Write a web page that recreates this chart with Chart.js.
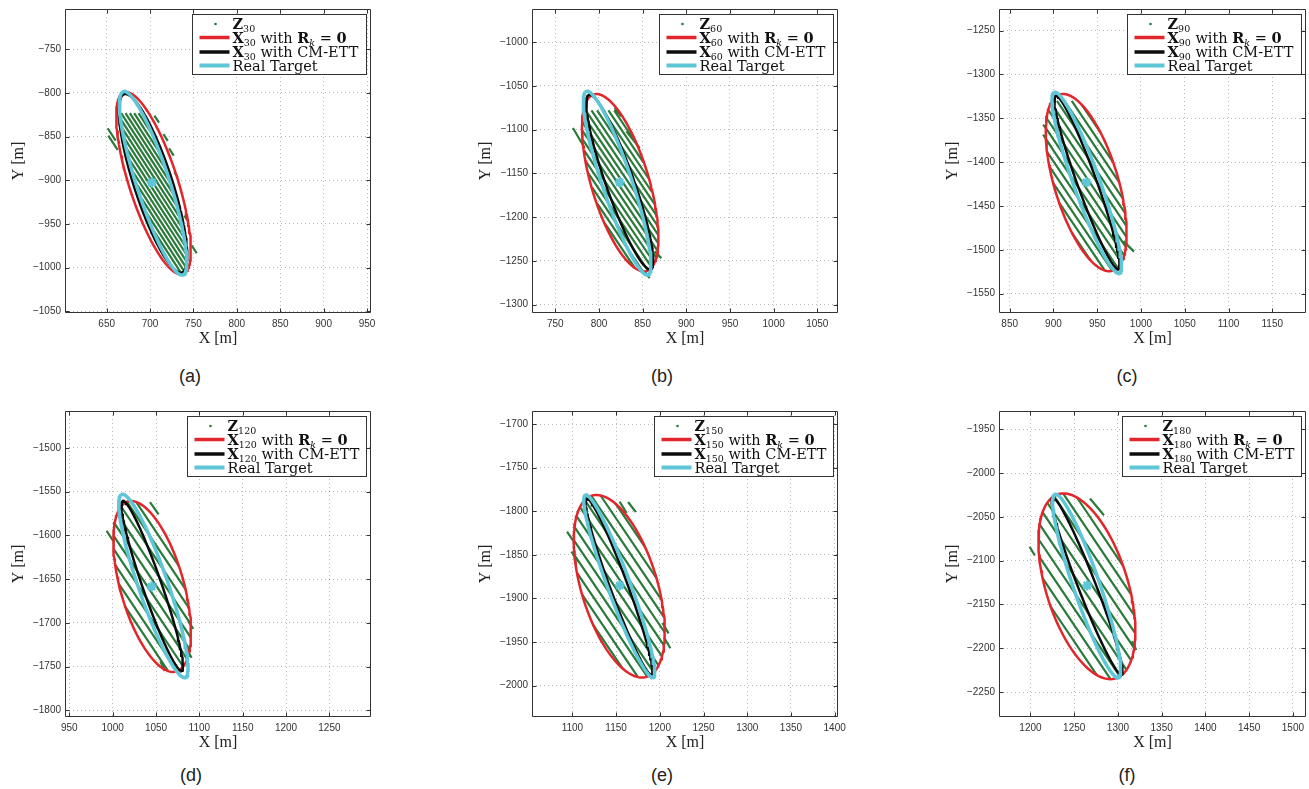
<!DOCTYPE html>
<html>
<head>
<meta charset="utf-8">
<script src="https://cdn.jsdelivr.net/npm/chart.js@4/dist/chart.umd.min.js"></script>
<style>
  body { margin: 0; background: #fff; width: 1309px; height: 789px; overflow: hidden; position: relative; }
  canvas { position: absolute; }
  .cap { position: absolute; font: 18px 'Liberation Sans', Arial, sans-serif; color: #222; transform: translate(-50%, -50%); }
</style>
</head>
<body>
<script>
// time steps shown in the six panels
const steps = ['30', '60', '90', '120', '150', '180'];
const captions = ['(a)', '(b)', '(c)', '(d)', '(e)', '(f)'];

// axis ranges [min, max] in metres
const xRanges = [[602, 954.6], [723.3, 1073.7], [837.8, 1188.5], [945, 1298], [1053.8, 1403.8], [1164, 1515]];
const yRanges = [[-1052, -704], [-1309.5, -962.3], [-1572, -1225.3], [-1807.6, -1458], [-2035.9, -1685], [-2278.5, -1929]];

// tick labels
const xTicks = [
  [650, 700, 750, 800, 850, 900, 950],
  [750, 800, 850, 900, 950, 1000, 1050],
  [850, 900, 950, 1000, 1050, 1100, 1150],
  [950, 1000, 1050, 1100, 1150, 1200, 1250],
  [1100, 1150, 1200, 1250, 1300, 1350, 1400],
  [1200, 1250, 1300, 1350, 1400, 1450, 1500]
];
const yTicks = [
  [-1050, -1000, -950, -900, -850, -800, -750],
  [-1300, -1250, -1200, -1150, -1100, -1050, -1000],
  [-1550, -1500, -1450, -1400, -1350, -1300, -1250],
  [-1800, -1750, -1700, -1650, -1600, -1550, -1500],
  [-2000, -1950, -1900, -1850, -1800, -1750, -1700],
  [-2250, -2200, -2150, -2100, -2050, -2000, -1950]
];

// extension ellipses: [cx, cy, semi-major, semi-minor, orientation deg]
const redEllipses = [
  [704, -903.5, 109.4, 27.9, -72],
  [824.3, -1160.7, 105.3, 33, -73.3],
  [937.4, -1423.3, 105, 36.5, -73.3],
  [1045.5, -1658.5, 101, 36.5, -74],
  [1153.6, -1886, 108.5, 43.5, -73.3],
  [1264.5, -2129.2, 110.2, 46.7, -72.6]
];
const blackEllipses = [
  [703.5, -903.6, 107.4, 22, -71.9],
  [823.7, -1159.8, 105.6, 16, -70.5],
  [938.2, -1423, 105.2, 11, -70.1],
  [1045.6, -1657.8, 102.8, 11, -70.7],
  [1153.3, -1886.3, 107.8, 10, -69.8],
  [1264.7, -2129.1, 108.5, 10, -68.7]
];
const cyanEllipses = [
  [703.5, -903.5, 110.4, 19, -71.9],
  [820.8, -1161.1, 110.5, 17, -71.4],
  [938, -1423.4, 109.6, 15, -70.2],
  [1047, -1657.8, 110.8, 17, -70.7],
  [1153.6, -1885.9, 111.5, 13, -69.7],
  [1264.2, -2128.7, 110.7, 15, -70.9]
];
const targetCenters = [[702, -902.7], [823.7, -1160.3], [937.8, -1423], [1045, -1658.6], [1154.2, -1885], [1264.9, -2128.3]];

// measurement strokes Z_k: [x1, y1, x2, y2]
const zA = [
  [703.2, -956.3, 737.1, -1008.4], [695, -936, 740.7, -1006.3], [688.7, -918.5, 742.4, -1001.1],
  [683.4, -902.8, 742.9, -994.3], [679, -888.3, 742.7, -986.2], [675.3, -874.9, 741.7, -977.1],
  [672.2, -862.4, 740.2, -967.1], [669.6, -850.7, 738.1, -956.1], [667.5, -839.8, 735.5, -944.5],
  [666, -829.8, 732.4, -932], [666.7, -823.3, 728.7, -918.5], [671.7, -823.3, 724.3, -904.1],
  [676.7, -823.3, 719, -888.4], [681.7, -823.3, 712.7, -870.9], [686.7, -823.3, 704.5, -850.5],
  [651.2, -840.5, 660.4, -854.6], [651.9, -848.9, 662.7, -865.3], [705, -826, 710.4, -834],
  [715.4, -847.3, 720.4, -855], [721.9, -863.4, 727.3, -871.8], [728.1, -890.8, 731.9, -896.9],
  [739.6, -940.5, 743.5, -946.6], [748.1, -974.8, 753.8, -983.6]
];
const zB = [
  [817.4, -1078, 841.8, -1114.2], [810.8, -1078, 850.9, -1137.4], [804.3, -1078, 856.7, -1155.6],
  [797.8, -1078, 860.7, -1171.3], [791.4, -1078, 863.7, -1185.2], [784.8, -1078, 865.8, -1198],
  [781.7, -1083.1, 867, -1209.6], [780.9, -1091.6, 867.6, -1220.1], [781, -1101.3, 867.7, -1229.8],
  [781.6, -1111.8, 866.9, -1238.3], [782.8, -1123.4, 865.5, -1245.9], [784.9, -1136.2, 863.3, -1252.4],
  [787.9, -1150.1, 860.3, -1257.5], [791.9, -1165.8, 856.2, -1261], [797.7, -1184, 850.3, -1262],
  [806.8, -1207.2, 841, -1257.9],
  [817.9, -1075.4, 825.6, -1084.9], [831.3, -1102.1, 846.6, -1121.1], [770.2, -1098.2, 783.6, -1121.1],
  [863.7, -1239.1, 871.4, -1246.8], [852.3, -1262, 858, -1269.6]
];
const zC = [
  [932.4, -1334.6, 953.8, -1366.3], [920.9, -1330, 968.2, -1400.2], [912.5, -1330, 975.2, -1423.1],
  [904, -1330, 979.5, -1441.9], [897.1, -1332.3, 982.1, -1458.3], [894.1, -1340.3, 983.3, -1472.6],
  [892.2, -1349.9, 983.5, -1485.4], [891.3, -1361.2, 982.6, -1496.7], [891.5, -1374, 980.7, -1506.3],
  [892.7, -1388.3, 977.7, -1514.3], [895.3, -1404.7, 973.4, -1520.4], [899.6, -1423.5, 967.3, -1524],
  [906.6, -1446.4, 958.6, -1523.5], [921, -1480.3, 942.4, -1512],
  [888.2, -1357.2, 896.6, -1368.6], [888.2, -1368.6, 899.6, -1385.7], [980, -1490, 992, -1502]
];
const zD = [
  [1027, -1561.9, 1076.4, -1635.2], [1016.6, -1561.8, 1084.1, -1661.9], [1009.7, -1567.1, 1088.1, -1683.3],
  [1005.1, -1575.6, 1090, -1701.5], [1002.3, -1586.7, 1090.2, -1717], [1000.8, -1600, 1088.7, -1730.3],
  [1001, -1615.5, 1085.9, -1741.4], [1002.9, -1633.7, 1081.3, -1749.9], [1006.9, -1655.1, 1074.4, -1755.2],
  [1014.6, -1681.8, 1064, -1755.1],
  [993, -1595, 1001, -1607], [1043, -1562, 1053, -1576], [1087, -1698, 1093, -1707],
  [1085, -1729, 1091, -1740], [1055, -1744, 1060, -1755]
];
const zE = [
  [1149.6, -1791.6, 1183.5, -1841.8], [1132.2, -1781.9, 1196.2, -1876.7], [1121.6, -1782.3, 1202, -1901.5],
  [1114.2, -1787.3, 1204.9, -1921.7], [1108.7, -1795.3, 1205.6, -1939], [1104.7, -1805.6, 1204.7, -1953.8],
  [1102.5, -1818.2, 1202.5, -1966.4], [1101.6, -1833, 1198.5, -1976.7], [1102.3, -1850.3, 1193, -1984.7],
  [1105.2, -1870.5, 1185.6, -1989.7], [1111, -1895.3, 1175, -1990.1], [1123.7, -1930.2, 1157.6, -1980.4],
  [1154, -1789, 1162, -1802], [1163.7, -1789.4, 1172.5, -1800.8], [1093.9, -1823.3, 1102.7, -1836.6],
  [1098.9, -1846.2, 1106.5, -1857.6], [1203, -1928, 1210, -1940], [1205, -1945, 1212, -1957]
];
const zF = [
  [1253.1, -2027.8, 1306.2, -2106.4], [1237.3, -2023, 1315.2, -2138.6], [1226.8, -2026.3, 1319.1, -2163.1],
  [1219.2, -2033.8, 1320, -2183.2], [1213.9, -2044.7, 1318.6, -2199.9], [1210.4, -2058.5, 1315.1, -2213.7],
  [1209, -2075.2, 1309.8, -2224.6], [1209.9, -2095.3, 1302.2, -2232.1], [1213.8, -2119.8, 1291.7, -2235.4],
  [1222.8, -2152, 1275.9, -2230.6],
  [1199, -2084, 1205, -2094], [1268, -2029, 1284, -2048], [1316, -2192, 1321, -2202]
];
const zSegments = [zA, zB, zC, zD, zE, zF];

// ---- layout (page pixels): plot area left, top, width, height
const boxes = [
  [65, 9, 306, 304], [532, 9, 306, 304], [999, 9, 307, 304],
  [65, 411, 306, 306], [532, 411, 306, 306], [999, 411, 307, 306]
];
const capPos = [[190, 376], [662, 376], [1127, 376], [191, 775], [662, 775], [1127, 775]];

const RED = '#e2262b', BLACK = '#0c0c0c', CYAN = '#5fc6d8', GREEN = '#2a7a3a';

function ellipsePts(e) {
  const [cx, cy, a, b, deg] = e;
  const th = deg * Math.PI / 180;
  const pts = [];
  for (let k = 0; k <= 144; k++) {
    const t = k / 144 * 2 * Math.PI;
    const u = a * Math.cos(t), v = b * Math.sin(t);
    pts.push({ x: cx + u * Math.cos(th) - v * Math.sin(th), y: cy + u * Math.sin(th) + v * Math.cos(th) });
  }
  return pts;
}

function segPts(list) {
  const pts = [];
  list.forEach(s => {
    pts.push({ x: s[0], y: s[1] }, { x: s[2], y: s[3] }, { x: null, y: null });
  });
  return pts;
}

// axes box + inward tick marks (MATLAB style)
const boxPlugin = {
  id: 'mbox',
  afterDatasetsDraw(chart) {
    const { ctx, chartArea: ca, scales } = chart;
    const L = Math.round(ca.left) + 0.5, R = Math.round(ca.right) - 0.5;
    const T = Math.round(ca.top) + 0.5, B = Math.round(ca.bottom) - 0.5;
    ctx.save();
    ctx.strokeStyle = '#333';
    ctx.lineWidth = 1;
    ctx.beginPath();
    ctx.rect(L, T, R - L, B - T);
    scales.x.ticks.forEach(t => {
      const px = Math.round(scales.x.getPixelForValue(t.value)) + 0.5;
      ctx.moveTo(px, B); ctx.lineTo(px, B - 4);
      ctx.moveTo(px, T); ctx.lineTo(px, T + 4);
    });
    scales.y.ticks.forEach(t => {
      const py = Math.round(scales.y.getPixelForValue(t.value)) + 0.5;
      ctx.moveTo(L, py); ctx.lineTo(L + 4, py);
      ctx.moveTo(R, py); ctx.lineTo(R - 4, py);
    });
    ctx.stroke();
    ctx.restore();
  }
};

function richText(ctx, x, y, parts) {
  parts.forEach(p => {
    ctx.font = p.f;
    ctx.fillText(p.t, x, y + (p.dy || 0));
    x += ctx.measureText(p.t).width;
  });
}

const legendPlugin = {
  id: 'mlegend',
  afterDraw(chart, args, opts) {
    const { ctx, chartArea: ca } = chart;
    const s = opts.step;
    const w = s.length > 2 ? 179 : 174, h = 60;
    const x0 = Math.round(ca.right - 5 - w) + 0.5, y0 = Math.round(ca.top + 5) + 0.5;
    const B = 'bold 14.5px "DejaVu Serif"', Rg = '14.5px "DejaVu Serif"';
    const SUB = '9.5px "DejaVu Serif"', SUBI = 'italic 9.5px "DejaVu Serif"';
    ctx.save();
    ctx.fillStyle = '#fff';
    ctx.fillRect(x0, y0, w, h);
    ctx.strokeStyle = '#333';
    ctx.lineWidth = 1;
    ctx.strokeRect(x0, y0, w, h);
    const rows = [9.5, 23, 37.5, 51];
    // marker sample
    ctx.fillStyle = GREEN;
    ctx.beginPath();
    ctx.arc(x0 + 23, y0 + rows[0], 1.3, 0, Math.PI * 2);
    ctx.fill();
    [[RED, 3.5], [BLACK, 3.5], [CYAN, 4]].forEach((c, k) => {
      ctx.strokeStyle = c[0];
      ctx.lineWidth = c[1];
      ctx.beginPath();
      ctx.moveTo(x0 + 7, y0 + rows[k + 1]);
      ctx.lineTo(x0 + 37, y0 + rows[k + 1]);
      ctx.stroke();
    });
    ctx.fillStyle = '#111';
    ctx.textBaseline = 'alphabetic';
    const tx = x0 + 40;
    richText(ctx, tx, y0 + rows[0] + 5, [{ t: 'Z', f: B }, { t: s, f: SUB, dy: 3 }]);
    richText(ctx, tx, y0 + rows[1] + 5, [
      { t: 'X', f: B }, { t: s, f: SUB, dy: 3 }, { t: ' with ', f: Rg },
      { t: 'R', f: B }, { t: 'k', f: SUBI, dy: 3 }, { t: ' = ', f: Rg }, { t: '0', f: B }
    ]);
    richText(ctx, tx, y0 + rows[2] + 5, [{ t: 'X', f: B }, { t: s, f: SUB, dy: 3 }, { t: ' with CM-ETT', f: Rg }]);
    richText(ctx, tx, y0 + rows[3] + 5, [{ t: 'Real Target', f: Rg }]);
    ctx.restore();
  }
};

const tickFont = { family: "'Liberation Sans', Arial, sans-serif", size: 10 };
const titleFont = { family: "'Liberation Serif', 'Times New Roman', serif", size: 16 };
const fmt = v => (v < 0 ? '\u2212' + Math.abs(v) : String(v));
const noPad = s => { s.paddingTop = 0; s.paddingBottom = 0; s.paddingLeft = 0; s.paddingRight = 0; };

boxes.forEach((b, i) => {
  const cv = document.createElement('canvas');
  cv.width = b[2] + 75;
  cv.height = b[3] + 45;
  cv.style.left = (b[0] - 60) + 'px';
  cv.style.top = (b[1] - 5) + 'px';
  cv.style.width = cv.width + 'px';
  cv.style.height = cv.height + 'px';
  document.body.appendChild(cv);

  new Chart(cv, {
    type: 'scatter',
    data: {
      datasets: [
        { label: 'center', data: [{ x: targetCenters[i][0], y: targetCenters[i][1] }],
          pointStyle: 'star', radius: 5, borderColor: CYAN, borderWidth: 2.5, showLine: false },
        { label: 'Real Target', data: ellipsePts(cyanEllipses[i]), showLine: true,
          borderColor: CYAN, borderWidth: 3.5, pointRadius: 0, tension: 0 },
        { label: 'CM-ETT', data: ellipsePts(blackEllipses[i]), showLine: true,
          borderColor: BLACK, borderWidth: 2.5, pointRadius: 0, tension: 0 },
        { label: 'Rk=0', data: ellipsePts(redEllipses[i]), showLine: true,
          borderColor: RED, borderWidth: 2.5, pointRadius: 0, tension: 0 },
        { label: 'Z', data: segPts(zSegments[i]), showLine: true, spanGaps: false,
          borderColor: GREEN, borderWidth: 2.2, pointRadius: 0, tension: 0 }
      ]
    },
    options: {
      responsive: false,
      animation: false,
      devicePixelRatio: 1,
      layout: { autoPadding: false, padding: { top: 5, right: 15, left: 0, bottom: 0 } },
      plugins: {
        legend: { display: false },
        tooltip: { enabled: false },
        mlegend: { step: steps[i] }
      },
      scales: {
        x: {
          type: 'linear', min: xRanges[i][0], max: xRanges[i][1],
          afterBuildTicks: s => { s.ticks = xTicks[i].map(v => ({ value: v })); },
          afterFit: s => { s.height = 40; noPad(s); },
          grid: { color: 'rgba(0,0,0,0.28)', lineWidth: 1, drawTicks: false },
          border: { display: false, dash: [1, 3] },
          ticks: { padding: 5, color: '#333', font: tickFont, maxRotation: 0, autoSkip: false, callback: fmt },
          title: { display: true, text: 'X [m]', color: '#222', font: titleFont, padding: { top: 0, bottom: 4.7 } }
        },
        y: {
          type: 'linear', min: yRanges[i][0], max: yRanges[i][1],
          afterBuildTicks: s => { s.ticks = yTicks[i].map(v => ({ value: v })); },
          afterFit: s => { s.width = 60; noPad(s); },
          grid: { color: 'rgba(0,0,0,0.28)', lineWidth: 1, drawTicks: false },
          border: { display: false, dash: [1, 3] },
          ticks: { padding: 4, color: '#333', font: tickFont, autoSkip: false, callback: fmt },
          title: { display: true, text: 'Y [m]', color: '#222', font: titleFont, padding: { top: 3.7, bottom: 0 } }
        }
      }
    },
    plugins: [boxPlugin, legendPlugin]
  });

  const cap = document.createElement('div');
  cap.className = 'cap';
  cap.textContent = captions[i];
  cap.style.left = capPos[i][0] + 'px';
  cap.style.top = capPos[i][1] + 'px';
  document.body.appendChild(cap);
});
</script>
</body>
</html>
